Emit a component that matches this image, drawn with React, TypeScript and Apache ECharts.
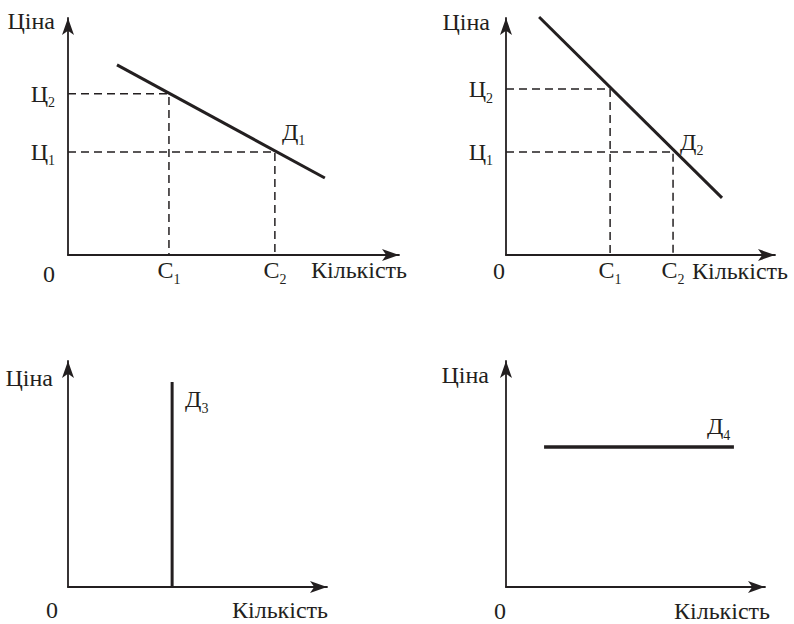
import React, { useEffect, useRef } from "react";
import * as echarts from "echarts";

const INK = "#231f20";
const FONT = "'Liberation Serif', 'Times New Roman', serif";
const FS = 24;
const SFS = 14;

// Axis domain (all panels)
const AXIS_MIN = 0;
const AXIS_MAX = 100;

// Panel 1 (Д1)
const p1Quantities = [30.5, 62.5]; // С1, С2
const p1Prices = [68, 43.5]; // Ц2 (at С1), Ц1 (at С2)
const p1Demand = [[14.8, 80.2], [77.6, 32.5]];

// Panel 2 (Д2)
const p2Quantities = [38.7, 62.1];
const p2Prices = [70, 43.5];
const p2Demand = [[12.3, 100.4], [80.3, 24.1]];

// Panel 3 (Д3) perfectly inelastic
const p3Demand = [[40.2, 0], [40.2, 90.7]];

// Panel 4 (Д4) perfectly elastic
const p4Demand = [[14.7, 61.9], [88, 61.9]];

// Tick labels
const quantityTickLabels = [["С", "1"], ["С", "2"]];
const priceTickLabels = [["Ц", "2"], ["Ц", "1"]];
const demandLabels = [["Д", "1"], ["Д", "2"], ["Д", "3"], ["Д", "4"]];
const xName = "Кількість";
const yName = "Ціна";
const originLabel = "0";

const rich = {
  m: { fontSize: FS, fontFamily: FONT, color: INK, textBorderWidth: 0, lineHeight: 32 },
  s: {
    fontSize: SFS,
    fontFamily: FONT,
    color: INK,
    textBorderWidth: 0,
    lineHeight: 14,
    verticalAlign: "bottom" as const,
  },
};

const sub = (pair: string[]) => `{m|${pair[0]}}{s|${pair[1]}}`;

export default function App() {
  const ref = useRef<HTMLDivElement>(null);
  useEffect(() => {
    if (!ref.current) return;
    const chart = echarts.init(ref.current, null, { renderer: "svg" });

    const grids = [
      { left: 68, top: 18, width: 331, height: 237 },
      { left: 506, top: 18, width: 269, height: 237 },
      { left: 68, top: 361, width: 259, height: 226 },
      { left: 506, top: 361, width: 259, height: 226 },
    ].map((g) => ({ ...g, containLabel: false, outerBoundsMode: "none" }));
    // gap: horizontal distance past the axis end of the name's right edge
    // lh: line height (text centre sits lh/2 below the axis)
    const xNameCfg = [
      { gap: 8, lh: 30 },
      { gap: 13, lh: 32 },
      { gap: 1, lh: 46 },
      { gap: 5, lh: 48 },
    ];
    const yNameCfg = [
      { gap: -3, pad: 13 },
      { gap: -3.5, pad: 16 },
      { gap: -17, pad: 15 },
      { gap: -14, pad: 17 },
    ];
    const quantities = [p1Quantities, p2Quantities, [], []];
    const prices = [p1Prices, p2Prices, [], []];

    const axisLine = {
      show: true,
      onZero: false,
      symbol: ["none", "arrow"],
      symbolSize: [9, 17],
      lineStyle: { color: INK, width: 1.8 },
    };

    const xAxis = grids.map((_, i) => ({
      type: "value",
      gridIndex: i,
      min: AXIS_MIN,
      max: AXIS_MAX,
      axisLine,
      axisTick: { show: false },
      splitLine: { show: false },
      axisLabel: {
        show: quantities[i].length > 0,
        customValues: quantities[i],
        margin: -1,
        color: INK,
        formatter: (v: number) => {
          const k = quantities[i].indexOf(v);
          return k >= 0 ? sub(quantityTickLabels[k]) : "";
        },
        rich,
      },
      name: xName,
      nameLocation: "end",
      nameGap: xNameCfg[i].gap,
      nameTextStyle: {
        fontSize: FS,
        fontFamily: FONT,
        color: INK,
        align: "right",
        verticalAlign: "top",
        lineHeight: xNameCfg[i].lh,
      },
    }));

    const yAxis = grids.map((_, i) => ({
      type: "value",
      gridIndex: i,
      min: AXIS_MIN,
      max: AXIS_MAX,
      axisLine,
      axisTick: { show: false },
      splitLine: { show: false },
      axisLabel: {
        show: prices[i].length > 0,
        customValues: prices[i],
        margin: 13,
        color: INK,
        formatter: (v: number) => {
          const k = prices[i].indexOf(v);
          return k >= 0 ? sub(priceTickLabels[k]) : "";
        },
        rich,
      },
      name: yName,
      nameLocation: "end",
      nameGap: yNameCfg[i].gap,
      nameTextStyle: {
        fontSize: FS,
        fontFamily: FONT,
        color: INK,
        align: "right",
        verticalAlign: "middle",
        padding: [0, yNameCfg[i].pad, 0, 0],
      },
    }));

    const series: any[] = [];
    // dashed guides
    [0, 1].forEach((p) => {
      quantities[p].forEach((q, k) => {
        const pr = prices[p][k];
        series.push({
          type: "line",
          xAxisIndex: p,
          yAxisIndex: p,
          data: [[0, pr], [q, pr], [q, 0]],
          symbol: "none",
          silent: true,
          lineStyle: { color: INK, width: 1.5, type: [8, 5] },
        });
      });
    });
    // demand lines
    const demands = [p1Demand, p2Demand, p3Demand, p4Demand];
    const widths = [3, 3, 3, 3.5];
    demands.forEach((d, i) => {
      series.push({
        type: "line",
        xAxisIndex: i,
        yAxisIndex: i,
        data: d,
        symbol: "none",
        clip: false,
        silent: true,
        lineStyle: { color: INK, width: widths[i], cap: "butt" },
      });
    });
    // demand labels anchored to points on the curves
    const labelAnchors = [
      [p1Quantities[1], p1Prices[1]],
      [p2Quantities[1], p2Prices[1]],
      p3Demand[1],
      p4Demand[1],
    ];
    const labelOffsets = [
      [7, -20],
      [7, -10],
      [13, 17],
      [-27, -21],
    ];
    labelAnchors.forEach((pt, i) => {
      series.push({
        type: "scatter",
        xAxisIndex: i,
        yAxisIndex: i,
        data: [pt],
        symbolSize: 0,
        clip: false,
        silent: true,
        itemStyle: { color: INK, opacity: 1 },
        label: {
          show: true,
          position: labelOffsets[i],
          align: "left",
          verticalAlign: "middle",
          color: INK,
          opacity: 1,
          textBorderWidth: 0,
          formatter: () => sub(demandLabels[i]),
          rich,
        },
      });
    });

    const origins = [
      [49, 274],
      [499, 271],
      [52, 610],
      [500, 611],
    ];

    chart.setOption({
      animation: false,
      backgroundColor: "#ffffff",
      grid: grids,
      xAxis,
      yAxis,
      series,
      graphic: origins.map(([x, y]) => ({
        type: "text",
        x,
        y,
        style: {
          text: originLabel,
          fontSize: FS,
          fontFamily: FONT,
          fill: INK,
          align: "center",
          verticalAlign: "middle",
        },
      })),
    });
    return () => chart.dispose();
  }, []);
  return (
    <div
      ref={ref}
      style={{ position: "fixed", left: 0, top: 0, width: 794, height: 624 }}
    />
  );
}
